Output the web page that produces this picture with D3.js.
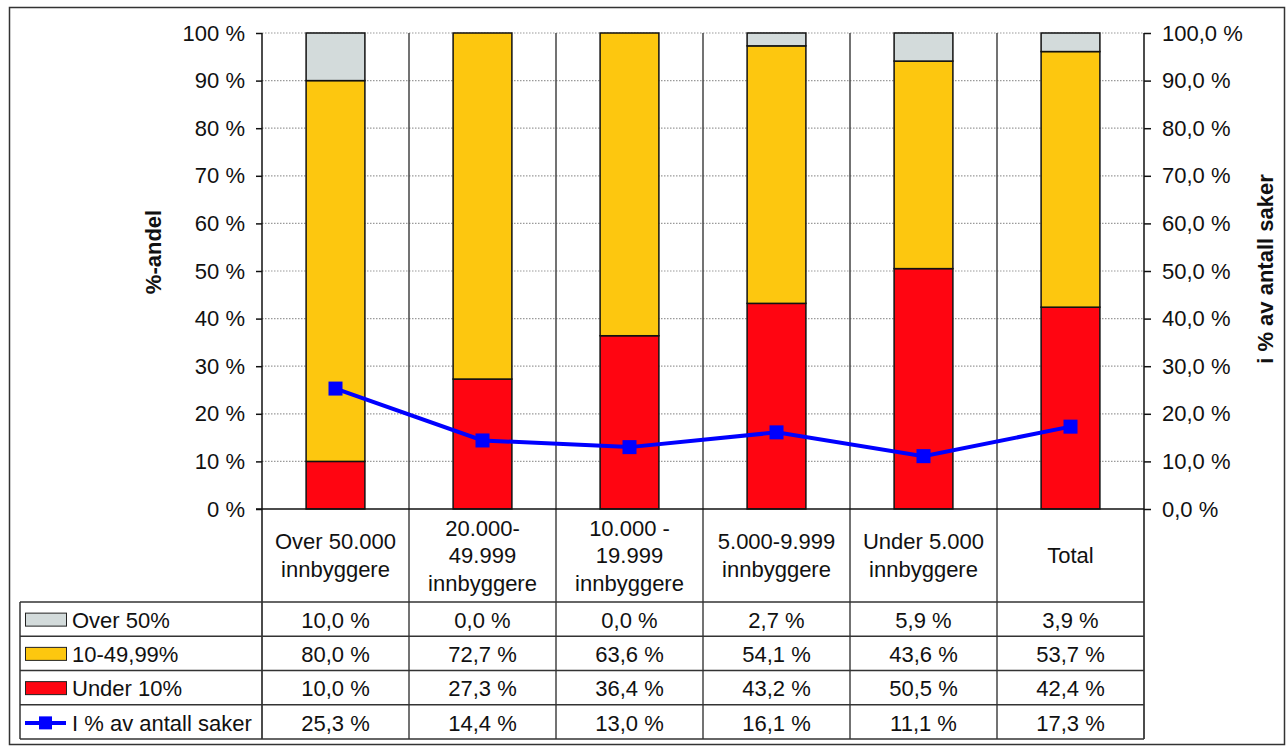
<!DOCTYPE html>
<html>
<head>
<meta charset="utf-8">
<script src="https://cdn.jsdelivr.net/npm/d3@7"></script>
<style>
  html, body { margin: 0; padding: 0; background: #fff; }
  svg { display: block; font-family: "Liberation Sans", Arial, sans-serif; }
</style>
</head>
<body>
<svg id="chart" width="1287" height="748"></svg>
<script>
// Kategorier (kommunestørrelse)
const categories = [
  ["Over 50.000", "innbyggere"],
  ["20.000-", "49.999", "innbyggere"],
  ["10.000 -", "19.999", "innbyggere"],
  ["5.000-9.999", "innbyggere"],
  ["Under 5.000", "innbyggere"],
  ["Total"]
];
// Andel per kategori (%)
const over50 = [10.0, 0.0, 0.0, 2.7, 5.9, 3.9];
const mid10to50 = [80.0, 72.7, 63.6, 54.1, 43.6, 53.7];
const under10 = [10.0, 27.3, 36.4, 43.2, 50.5, 42.4];
// I % av antall saker (høyre akse)
const andelSaker = [25.3, 14.4, 13.0, 16.1, 11.1, 17.3];

const leftTicks = [0, 10, 20, 30, 40, 50, 60, 70, 80, 90, 100];
const rightTicks = [0, 10, 20, 30, 40, 50, 60, 70, 80, 90, 100];

const seriesNames = ["Over 50%", "10-49,99%", "Under 10%", "I % av antall saker"];
const colors = { over: "#D3DBDB", mid: "#FDC70F", under: "#FF0511", line: "#0000FF" };

const FS = 22;
const svg = d3.select("#chart");
const fmt = v => v.toFixed(1).replace(".", ",") + " %";

const plot = { left: 262, right: 1144, top: 33, bottom: 509 };
const tableTop = 602;
const rowH = 34.25;
const tableLeft = 20;
const tableBottom = tableTop + 4 * rowH;

// Outer frame
svg.append("rect")
  .attr("x", 9.5).attr("y", 7.5).attr("width", 1275).attr("height", 737)
  .attr("fill", "none").attr("stroke", "#333").attr("stroke-width", 1.5);

const x = d3.scaleBand()
  .domain(d3.range(categories.length))
  .range([plot.left, plot.right])
  .paddingInner(0.6).paddingOuter(0.3);
const xCols = d3.scaleBand()
  .domain(d3.range(categories.length))
  .range([plot.left, plot.right]);
const yL = d3.scaleLinear().domain([0, 100]).range([plot.bottom, plot.top]);
const yR = d3.scaleLinear().domain([0, 100]).range([plot.bottom, plot.top]);

// Dotted gridlines
svg.append("g").selectAll("line")
  .data(leftTicks.filter(t => t > 0))
  .join("line")
  .attr("x1", plot.left).attr("x2", plot.right)
  .attr("y1", d => yL(d)).attr("y2", d => yL(d))
  .attr("stroke", "#9a9a9a").attr("stroke-width", 1.2)
  .attr("stroke-dasharray", "1.5,1.5");

// Column separators through plot and table
svg.append("g").selectAll("line")
  .data(d3.range(1, categories.length))
  .join("line")
  .attr("x1", d => xCols(d)).attr("x2", d => xCols(d))
  .attr("y1", plot.top).attr("y2", tableBottom)
  .attr("stroke", "#444").attr("stroke-width", 1.5);

// Stacked bars
const stackData = categories.map((c, i) => ({ i, under: under10[i], mid: mid10to50[i], over: over50[i] }));
const stack = d3.stack().keys(["under", "mid", "over"]);
const layers = stack(stackData);
svg.append("g").selectAll("g")
  .data(layers)
  .join("g")
  .attr("fill", d => colors[d.key])
  .selectAll("rect")
  .data(d => d.filter(p => p[1] - p[0] > 0))
  .join("rect")
  .attr("x", d => x(d.data.i))
  .attr("width", x.bandwidth())
  .attr("y", d => yL(d[1]))
  .attr("height", d => yL(d[0]) - yL(d[1]))
  .attr("stroke", "#111").attr("stroke-width", 1.5);

// Left axis
const axL = svg.append("g").attr("transform", `translate(${plot.left},0)`)
  .call(d3.axisLeft(yL).tickValues(leftTicks).tickSize(6).tickPadding(11)
    .tickFormat(d => d + " %"));
axL.select(".domain").remove();
axL.selectAll("line").attr("stroke", "#111").attr("stroke-width", 1.5);
axL.selectAll("text").attr("font-size", FS).attr("fill", "#111")
  .attr("font-family", "Liberation Sans, Arial, sans-serif");
svg.append("line").attr("x1", plot.left).attr("x2", plot.left)
  .attr("y1", plot.top).attr("y2", tableBottom)
  .attr("stroke", "#111").attr("stroke-width", 1.5);

// Right axis
const axR = svg.append("g").attr("transform", `translate(${plot.right},0)`)
  .call(d3.axisRight(yR).tickValues(rightTicks).tickSize(7).tickPadding(11)
    .tickFormat(d => d.toFixed(1).replace(".", ",") + " %"));
axR.select(".domain").remove();
axR.selectAll("line").attr("stroke", "#111").attr("stroke-width", 1.5);
axR.selectAll("text").attr("font-size", FS).attr("fill", "#111")
  .attr("font-family", "Liberation Sans, Arial, sans-serif");
svg.append("line").attr("x1", plot.right).attr("x2", plot.right)
  .attr("y1", plot.top).attr("y2", tableBottom)
  .attr("stroke", "#111").attr("stroke-width", 1.5);

// Baseline
svg.append("line").attr("x1", plot.left - 6).attr("x2", plot.right)
  .attr("y1", plot.bottom).attr("y2", plot.bottom)
  .attr("stroke", "#111").attr("stroke-width", 1.5);

// Axis titles
svg.append("text")
  .attr("transform", `translate(161,252) rotate(-90)`)
  .attr("text-anchor", "middle")
  .attr("font-size", FS).attr("font-weight", "bold").attr("fill", "#111")
  .text("%-andel");
svg.append("text")
  .attr("transform", `translate(1273,269) rotate(-90)`)
  .attr("text-anchor", "middle")
  .attr("font-size", FS).attr("font-weight", "bold").attr("fill", "#111")
  .text("i % av antall saker");

// Line series
const cx = i => x(i) + x.bandwidth() / 2;
svg.append("path")
  .datum(andelSaker)
  .attr("fill", "none").attr("stroke", colors.line).attr("stroke-width", 4)
  .attr("d", d3.line().x((d, i) => cx(i)).y(d => yR(d)));
svg.append("g").selectAll("rect")
  .data(andelSaker)
  .join("rect")
  .attr("x", (d, i) => cx(i) - 7).attr("y", d => yR(d) - 7)
  .attr("width", 14).attr("height", 14)
  .attr("fill", colors.line);

// Category labels
const labelMid = (plot.bottom + tableTop) / 2;
const lineH = 27.5;
categories.forEach((lines, i) => {
  const t = svg.append("text")
    .attr("text-anchor", "middle")
    .attr("font-size", FS).attr("fill", "#111");
  const y0 = labelMid - (lines.length - 1) * lineH / 2;
  lines.forEach((ln, k) => {
    t.append("tspan")
      .attr("x", xCols(i) + xCols.bandwidth() / 2)
      .attr("y", y0 + k * lineH)
      .attr("dy", "0.35em")
      .text(ln);
  });
});

// Data table
const rowsData = [over50, mid10to50, under10, andelSaker];
for (let r = 0; r <= 4; r++) {
  svg.append("line")
    .attr("x1", tableLeft).attr("x2", plot.right)
    .attr("y1", tableTop + r * rowH).attr("y2", tableTop + r * rowH)
    .attr("stroke", "#333").attr("stroke-width", 1.5);
}
svg.append("line").attr("x1", tableLeft).attr("x2", tableLeft)
  .attr("y1", tableTop).attr("y2", tableBottom)
  .attr("stroke", "#333").attr("stroke-width", 1.5);

rowsData.forEach((vals, r) => {
  const cy = tableTop + r * rowH + rowH / 2;
  svg.append("g").selectAll("text")
    .data(vals)
    .join("text")
    .attr("x", (d, i) => xCols(i) + xCols.bandwidth() / 2)
    .attr("y", cy + 1)
    .attr("dy", "0.35em")
    .attr("text-anchor", "middle")
    .attr("font-size", FS).attr("fill", "#111")
    .text(d => fmt(d));
  // Legend key
  if (r < 3) {
    const fill = [colors.over, colors.mid, colors.under][r];
    svg.append("rect")
      .attr("x", 25.5).attr("y", cy - 6).attr("width", 41).attr("height", 13)
      .attr("fill", fill).attr("stroke", "#222").attr("stroke-width", 1);
  } else {
    svg.append("line").attr("x1", 25).attr("x2", 66)
      .attr("y1", cy + 1).attr("y2", cy + 1)
      .attr("stroke", colors.line).attr("stroke-width", 4);
    svg.append("rect").attr("x", 39).attr("y", cy - 5.5)
      .attr("width", 13).attr("height", 13).attr("fill", colors.line);
  }
  svg.append("text")
    .attr("x", 72).attr("y", cy + 1).attr("dy", "0.35em")
    .attr("font-size", FS).attr("fill", "#111")
    .text(seriesNames[r]);
});
</script>
</body>
</html>
